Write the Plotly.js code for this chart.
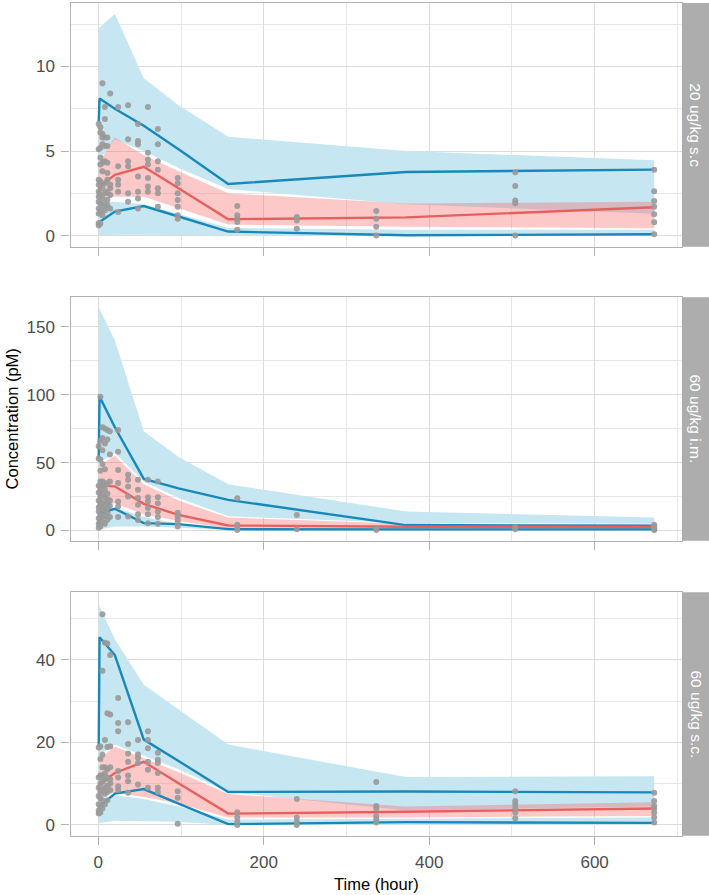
<!DOCTYPE html>
<html>
<head>
<meta charset="utf-8">
<script src="https://cdn.plot.ly/plotly-3.0.1.min.js"></script>
<style>
  html, body { margin: 0; padding: 0; background: #fff; }
  #vpc { width: 709px; height: 895px; }
</style>
</head>
<body>
<div id="vpc"></div>
<script>
// VPC by dose group: observed percentiles (lines), simulated CIs (bands), observations (dots)

const panelNames = ["20 ug/kg s.c", "60 ug/kg i.m.", "60 ug/kg s.c."];
const bins = [0.5, 1.5, 20, 55, 97, 157, 372, 672];

// 20 ug/kg s.c
const p1Obs95 = [6.7, 8.1, 7.5, 6.5, 5.1, 3.05, 3.76, 3.9];
const p1Obs50 = [2.4, 2.9, 3.6, 4.07, 2.8, 0.97, 1.08, 1.68];
const p1Obs05 = [0.55, 0.8, 1.42, 1.75, 1.13, 0.24, 0.02, 0.08];
const p1Hi95 = [12.1, 12.3, 13.1, 9.3, 7.7, 5.85, 5.0, 4.45];
const p1Lo95 = [3.0, 4.5, 5.7, 5.0, 4.0, 2.75, 1.85, 1.3];
const p1Hi50 = [3.8, 4.4, 5.8, 4.75, 3.8, 2.5, 1.9, 2.0];
const p1Lo50 = [1.9, 2.1, 2.3, 2.3, 1.6, 0.65, 0.53, 0.44];
const p1Hi05 = [1.9, 2.0, 2.0, 1.85, 1.3, 0.45, 0.35, 0.35];
const p1Lo05 = [0, 0, 0.05, 0.05, 0.03, 0, 0, 0];
const p1ObsTime = [0.5, 2.5, 5, 8, 11, 14.4, 24, 36, 48, 60, 72, 96, 168, 240, 336, 504, 672];
const p1ObsConc = [
  [0.6, 0.75, 1.3, 1.6, 2.0, 2.3, 2.6, 3.0, 3.3, 5.1, 6.6],
  [0.7, 1.4, 1.9, 2.4, 3.2, 4.2, 4.6, 5.2, 6.1, 6.4],
  [1.2, 1.7, 2.2, 2.8, 3.8, 4.3, 5.4, 5.8, 6.0, 9.0],
  [1.5, 1.9, 2.5, 3.1, 4.4, 5.3, 5.8, 6.9, 7.6],
  [1.8, 2.1, 2.6, 3.3, 3.7, 4.3, 5.3, 5.8],
  [1.6, 2.4, 2.8, 3.0, 8.4],
  [7.6, 4.1, 3.3, 3.0, 2.6, 1.4],
  [7.7, 5.7, 4.4, 4.1, 2.5, 2.0],
  [6.6, 5.6, 5.4, 3.5, 2.6, 2.2, 1.6],
  [7.6, 4.9, 4.5, 4.2, 3.4, 2.9, 2.6],
  [6.3, 5.4, 4.4, 3.9, 2.8, 2.5, 1.7],
  [3.4, 3.1, 2.5, 2.1, 1.7, 1.2, 1.0],
  [1.75, 1.2, 1.0, 0.8, 0.35],
  [1.1, 0.9, 0.4],
  [1.46, 0.99, 0.53, 0.0],
  [3.74, 2.93, 2.07, 1.91, 0.0],
  [3.9, 2.62, 2.05, 1.71, 1.26, 0.79, 0.08]
];

// 60 ug/kg i.m.
const p2Obs95 = [54, 98.5, 76, 38, 31, 22.5, 4.0, 3.5];
const p2Obs50 = [16.5, 33, 32.5, 19.6, 11.5, 3.7, 2.8, 2.6];
const p2Obs05 = [2, 12.8, 16, 5.4, 4.7, 1.0, 0.8, 0.8];
const p2Hi95 = [164, 163, 140, 73, 54, 34, 14, 9.5];
const p2Lo95 = [40, 50, 57, 36, 24, 10.5, 5.5, 5.0];
const p2Hi50 = [40, 48, 55, 34, 22, 9.5, 5.0, 4.5];
const p2Lo50 = [14, 18, 20, 12, 7, 1.5, 1.0, 1.0];
const p2Hi05 = [12, 14, 17, 10, 5, 1.2, 0.8, 0.8];
const p2Lo05 = [0, 1, 3, 3, 2, 0.5, 0.2, 0.2];
const p2ObsTime = [0.5, 2.5, 5, 8, 11, 14, 24, 36, 48, 60, 72, 96, 168, 240, 336, 504, 672];
const p2ObsConc = [
  [2, 5, 9, 14, 17, 22, 28, 33, 53, 62],
  [3, 8, 12, 18, 21, 25, 30, 36, 44, 52, 66, 98.5],
  [6, 10, 16, 20, 27, 33, 36, 49, 59, 68, 76],
  [5, 11, 15, 19, 24, 30, 35, 45, 64, 75],
  [8, 13, 17, 20, 23, 27, 34, 67, 74],
  [10, 18, 22, 36, 56, 73],
  [74, 58, 44.6, 35, 21.3, 17.6, 10],
  [41, 37.3, 32.4, 25, 10.3],
  [37.3, 29.9, 24, 18.9, 12, 7.8],
  [37.3, 24.5, 21.3, 16.5, 12, 5.4],
  [36, 24.5, 20, 14, 10, 5],
  [13, 10.5, 8, 5.5, 3],
  [23.8, 4.3, 1.9, 0.3],
  [11.5, 1.0],
  [1.8, 0.4],
  [2.5, 1.0],
  [4.3, 3, 2, 1, 0.3]
];

// 60 ug/kg s.c.
const p3Obs95 = [19.1, 45.5, 41.2, 20.7, 15.5, 8.0, 8.1, 7.9];
const p3Obs50 = [8.6, 10.0, 12.6, 15.3, 10.1, 2.75, 3.2, 4.0];
const p3Obs05 = [2.6, 4.5, 7.6, 8.7, 5.2, 0.2, 0.7, 0.5];
const p3Hi95 = [53.7, 53, 45, 34, 28, 19.5, 11.6, 11.8];
const p3Lo95 = [14, 17, 19.5, 16.8, 13.5, 8.0, 3.5, 4.5];
const p3Hi50 = [12, 16, 19, 16.2, 12.8, 7.5, 4.5, 5.5];
const p3Lo50 = [5, 7, 7.8, 6.8, 5.2, 1.8, 1.8, 2.2];
const p3Hi05 = [4, 5, 7.2, 6.3, 4.5, 1.3, 1.5, 1.8];
const p3Lo05 = [0, 0.5, 1, 1, 0.8, 0, 0, 0];
const p3ObsTime = [0.5, 2.5, 5, 8, 11, 14.4, 24, 36, 48, 60, 72, 96, 168, 240, 336, 504, 672];
const p3ObsConc = [
  [2.8, 3.5, 5, 7, 9, 11.5, 18.8],
  [3, 4.5, 6.5, 8, 10, 12, 16, 19],
  [4, 6, 8.5, 10.5, 12, 14, 17, 37.4, 51.1],
  [5, 7.5, 9, 11, 12.5, 14, 20.6, 44.2],
  [6, 8, 9.5, 11.5, 13.5, 18.9, 27.1, 44],
  [8.5, 10, 11, 14, 19, 26.8, 41.2],
  [30.8, 24.7, 22.7, 13.1, 9.4, 8.5, 11.5],
  [24.9, 19.6, 17.3, 15.3, 12, 10.6, 7.8],
  [20.6, 17.1, 16.3, 15, 9.8],
  [22.7, 20.6, 18.6, 15.3, 13.4, 9.0],
  [17.5, 15.8, 15, 12.6, 9.0, 8],
  [8.2, 6.6, 0.3],
  [3.1, 1.8, 0.8, 0],
  [6.3, 1.8, 0.8, 0],
  [10.4, 4.6, 4.0, 2.2, 1.4, 0.6],
  [8.2, 5.8, 5.0, 4.0, 3.0, 1.6],
  [7.8, 5.8, 4.6, 4.0, 3.0, 1.9, 0.6]
];

const yTicks = [5, 50, 20];
const yRanges = [[-0.655, 13.75], [-7.5, 171.6], [-2.6, 56.4]];

const C = {
  blue: "#1888BA",
  red: "#E6605E",
  blueBand: "#C6E6F2",
  redBand: "rgba(247,110,110,0.38)",
  dot: "#999999",
  grid: "#DCDCDC",
  minor: "#E8E8E8",
  border: "#B3B3B3",
  strip: "#ADADAD",
  tick: "#4D4D4D"
};

const panels = [
  { obs: [p1Obs95, p1Obs50, p1Obs05], hi95: p1Hi95, lo95: p1Lo95, hi50: p1Hi50, lo50: p1Lo50, hi05: p1Hi05, lo05: p1Lo05, t: p1ObsTime, c: p1ObsConc },
  { obs: [p2Obs95, p2Obs50, p2Obs05], hi95: p2Hi95, lo95: p2Lo95, hi50: p2Hi50, lo50: p2Lo50, hi05: p2Hi05, lo05: p2Lo05, t: p2ObsTime, c: p2ObsConc },
  { obs: [p3Obs95, p3Obs50, p3Obs05], hi95: p3Hi95, lo95: p3Lo95, hi50: p3Hi50, lo50: p3Lo50, hi05: p3Hi05, lo05: p3Lo05, t: p3ObsTime, c: p3ObsConc }
];

// pixel boxes of the three panels (top, bottom) in a 709 x 895 page
const W = 709, H = 895;
const xLeft = 70.5, xRight = 682;
const boxes = [[3, 246.7], [297.3, 540.7], [592.3, 835.7]];

function band(lo, hi, xa, ya, color) {
  return {
    type: "scatter", mode: "lines",
    x: bins.concat(bins.slice().reverse()),
    y: hi.concat(lo.slice().reverse()),
    fill: "toself", fillcolor: color,
    line: { width: 0 }, hoverinfo: "skip",
    xaxis: xa, yaxis: ya, showlegend: false
  };
}

const traces = [];
const layout = {
  width: W, height: H,
  margin: { l: 0, r: 0, t: 0, b: 0 },
  paper_bgcolor: "#fff",
  plot_bgcolor: "#fff",
  showlegend: false,
  font: { family: "Liberation Sans, Arial, sans-serif", size: 17, color: C.tick },
  shapes: [],
  annotations: []
};

panels.forEach((p, i) => {
  const n = i === 0 ? "" : String(i + 1);
  const xa = "x" + n, ya = "y" + n;

  traces.push(band(p.lo95, p.hi95, xa, ya, C.blueBand));
  traces.push(band(p.lo05, p.hi05, xa, ya, C.blueBand));
  traces.push(band(p.lo50, p.hi50, xa, ya, C.redBand));

  [[p.obs[0], C.blue], [p.obs[1], C.red], [p.obs[2], C.blue]].forEach(([ys, col]) => {
    traces.push({
      type: "scatter", mode: "lines", x: bins, y: ys,
      line: { color: col, width: 2.4 }, xaxis: xa, yaxis: ya,
      hovertemplate: "%{x} h<br>%{y}<extra></extra>"
    });
  });

  const px = [], py = [];
  p.t.forEach((tt, k) => p.c[k].forEach(v => { px.push(tt); py.push(v); }));
  traces.push({
    type: "scatter", mode: "markers", x: px, y: py,
    marker: { color: C.dot, size: 6, opacity: 0.9 },
    xaxis: xa, yaxis: ya,
    hovertemplate: "%{x} h<br>%{y}<extra></extra>"
  });

  const [top, bot] = boxes[i];
  const dom = [1 - bot / H, 1 - top / H];

  layout["xaxis" + n] = {
    domain: [xLeft / W, xRight / W],
    anchor: ya,
    range: [-33.6, 705.6],
    tick0: 0, dtick: 200,
    showticklabels: i === 2,
    ticks: "outside", ticklen: 8, tickcolor: C.border, tickwidth: 1,
    ticklabelstandoff: 3,
    tickfont: { size: 17, color: C.tick },
    showgrid: true, gridcolor: C.grid, gridwidth: 1.1,
    minor: { dtick: 100, tick0: 0, showgrid: true, gridcolor: C.minor, gridwidth: 0.8, ticks: "" },
    zeroline: false,
    showline: true, mirror: true, linecolor: C.border, linewidth: 1.3,
    fixedrange: true
  };
  layout["yaxis" + n] = {
    domain: dom,
    anchor: xa,
    range: yRanges[i],
    tick0: 0, dtick: yTicks[i],
    ticks: "outside", ticklen: 8, tickcolor: C.border, tickwidth: 1,
    ticklabelstandoff: 3,
    tickfont: { size: 17, color: C.tick },
    showgrid: true, gridcolor: C.grid, gridwidth: 1.1,
    minor: { dtick: yTicks[i] / 2, tick0: 0, showgrid: true, gridcolor: C.minor, gridwidth: 0.8, ticks: "" },
    zeroline: false,
    showline: true, mirror: true, linecolor: C.border, linewidth: 1.3,
    fixedrange: true
  };

  // facet strip on the right
  layout.shapes.push({
    type: "rect", xref: "paper", yref: "paper",
    x0: xRight / W, x1: 1, y0: dom[0], y1: dom[1],
    fillcolor: C.strip, line: { width: 0 }, layer: "above"
  });
  layout.annotations.push({
    xref: "paper", yref: "paper",
    x: (xRight + W) / 2 / W, y: (dom[0] + dom[1]) / 2,
    text: panelNames[i], textangle: 90, showarrow: false,
    font: { size: 15.5, color: "#fff" },
    xanchor: "center", yanchor: "middle"
  });
});

layout.annotations.push({
  xref: "paper", yref: "paper", x: 12 / W, y: 1 - 419.4 / H,
  text: "Concentration (pM)", textangle: -90, showarrow: false,
  font: { size: 16.5, color: "#000" }, xanchor: "center", yanchor: "middle"
});
layout.annotations.push({
  xref: "paper", yref: "paper", x: (xLeft + xRight) / 2 / W, y: 1 - 884 / H,
  text: "Time (hour)", showarrow: false,
  font: { size: 16.5, color: "#000" }, xanchor: "center", yanchor: "middle"
});

Plotly.newPlot("vpc", traces, layout, { displayModeBar: false, responsive: false });
</script>
</body>
</html>
